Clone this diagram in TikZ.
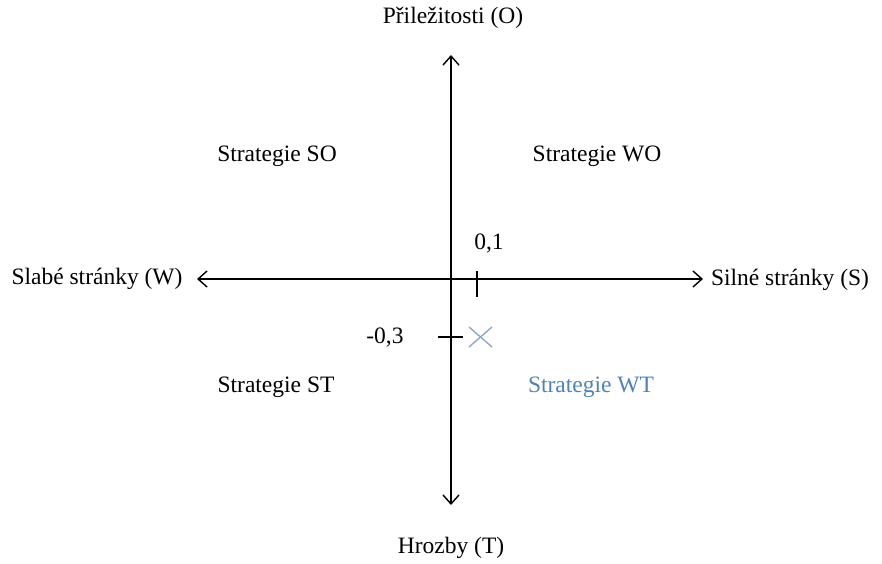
\documentclass[tikz,border=0pt]{standalone}
\usepackage{fontspec}
\setmainfont{Liberation Serif}
\usetikzlibrary{arrows.meta}

\begin{document}
\begin{tikzpicture}[x=1pt, y=-1pt, font=\fontsize{23.5}{27}\selectfont,
    axis/.style={line width=1.4pt, {Straight Barb[length=9pt,width=16pt]}-{Straight Barb[length=9pt,width=16pt]}}]
      \useasboundingbox (0,0) rectangle (882,563);
      \definecolor{wtblue}{RGB}{79,129,189}
      \definecolor{markblue}{RGB}{143,168,196}
      % axes
      \coordinate (west) at (197,279);
      \coordinate (east) at (703,279);
      \coordinate (north) at (451,55);
      \coordinate (south) at (451,505);
      \draw[axis] (west) -- (east) ;
      \draw[axis] (north) -- (south) ;
      \node (o) at (453,18) {Přiležitosti (O)} ;
      \node (t) at (451,548) {Hrozby (T)} ;
      \node (w) at (97,279) {Slabé stránky (W)} ;
      \node (s) at (790,280) {Silné stránky (S)} ;
      % quadrants
      \node (so) at (277,156) {Strategie SO} ;
      \node (wo) at (597,156) {Strategie WO} ;
      \node (st) at (276,387) {Strategie ST} ;
      \node[text=wtblue] (wt) at (591,387) {Strategie WT} ;
      % ticks
      \draw[line width=1.4pt] (477,271) -- (477,297) ;
      \node (xval) at (489,243) {0,1} ;
      \draw[line width=1.4pt] (438,337) -- (463,337) ;
      \node (yval) at (385,337) {-0,3} ;
      % position
      \foreach \d in {-1, 1}
      \draw[markblue, line width=1.4pt] (469,{337-10*\d}) -- (492,{337+10*\d}) ;
    \end{tikzpicture}
\end{document}
